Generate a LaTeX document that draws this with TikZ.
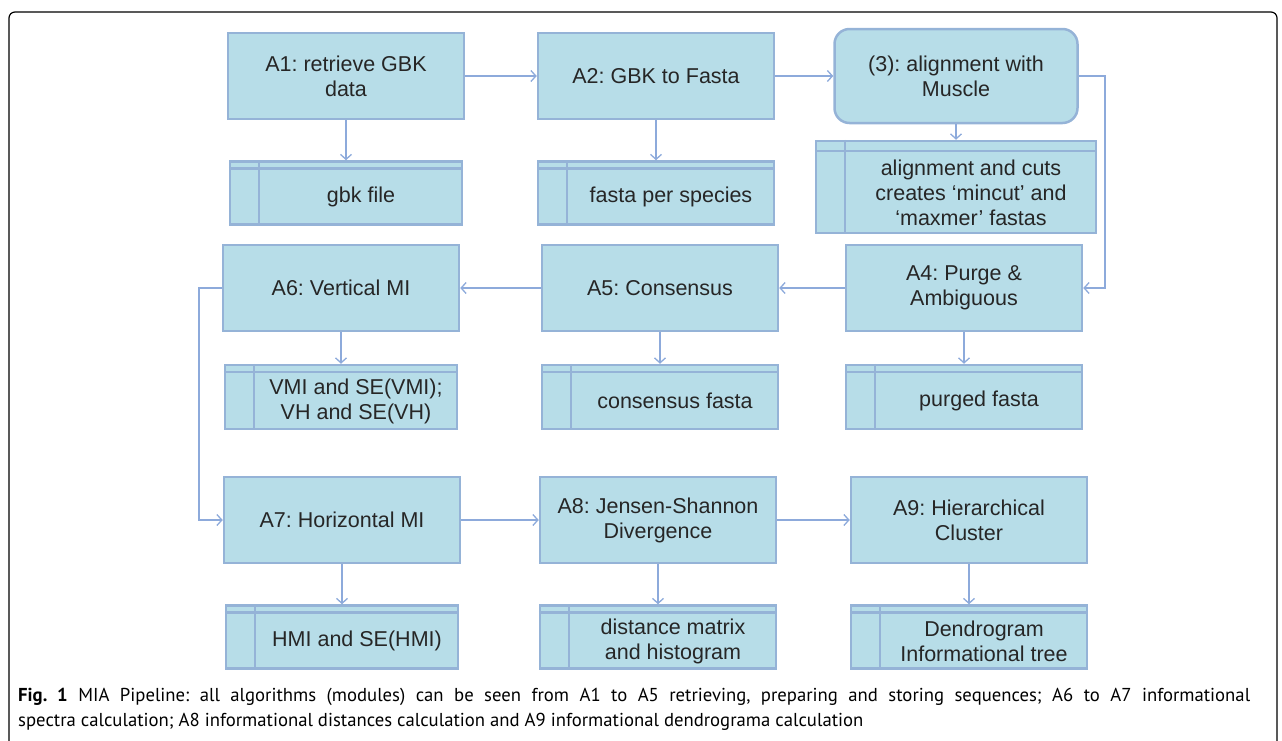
\documentclass[tikz,border=0pt]{standalone}
\usepackage{fontspec}
\setmainfont{Liberation Sans}
\newfontfamily\capfont{PT Sans}
\usetikzlibrary{arrows.meta}
\usetikzlibrary{positioning}
\frenchspacing

\definecolor{boxfill}{RGB}{183,221,232}
\definecolor{boxline}{RGB}{149,179,215}
\definecolor{flowline}{RGB}{141,170,219}
\definecolor{boxtext}{RGB}{38,38,38}

\tikzset{
  proc/.style={rectangle, draw=boxline, fill=boxfill, line width=2.5pt,
    minimum width=236pt, minimum height=86pt, align=center, text=boxtext,
    font=\fontsize{21.5}{25}\selectfont},
  store/.style={rectangle, draw=boxline, fill=boxfill, line width=2.5pt,
    minimum width=232pt, minimum height=63pt, inner sep=0pt},
  storelabel/.style={xshift=15pt, yshift=-4pt, align=center, text=boxtext,
    font=\fontsize{21.5}{25}\selectfont},
  flow/.style={draw=flowline, line width=1.3pt, ->,
    >={Straight Barb[length=5pt,width=11pt]}}
}

\begin{document}
\begin{tikzpicture}[x=1pt, y=-1pt]
	\useasboundingbox (0,0) rectangle (1282,740);
	% frame round the figure
	\draw[line width=1.2pt, rounded corners=6pt] (9,12) rectangle (1277,760);

	\begin{scope}[every node/.style={proc}]
		\node (a1) at (346,76) {A1: retrieve GBK\\data};
		\node (a2) at (656,76) {A2: GBK to Fasta};
		\node[rounded corners=15pt, minimum width=243pt, minimum height=94pt] (a3) at (956,76) {(3): alignment with\\Muscle};
		\node (a4) at (964,288) {A4: Purge \&\\Ambiguous};
		\node (a5) at (660,288) {A5: Consensus};
		\node (a6) at (341,288) {A6: Vertical MI};
		\node (a7) at (342,520) {A7: Horizontal MI};
		\node (a8) at (658,520) {A8: Jensen-Shannon\\Divergence};
		\node (a9) at (969,520) {A9: Hierarchical\\Cluster};
	\end{scope}

	% data stores
	\node[store, label={[storelabel]center:gbk file}] (gbk) at (346,193) {};
	\node[store, minimum width=236pt, label={[storelabel]center:fasta per species}] (fasta) at (656,193) {};
	\node[store, minimum width=280pt, minimum height=92pt,
	      label={[storelabel, yshift=-2pt]center:alignment and cuts\\creates ‘mincut’ and\\‘maxmer’ fastas}] (aln) at (956,187) {};
	\node[store, minimum height=64pt, label={[storelabel]center:VMI and SE(VMI);\\VH and SE(VH)}] (vmi) at (341,397) {};
	\node[store, minimum width=236pt, minimum height=64pt, label={[storelabel]center:consensus fasta}] (cons) at (660,397) {};
	\node[store, minimum width=236pt, minimum height=64pt, label={[storelabel]center:purged fasta}] (purged) at (964,397) {};
	\node[store, label={[storelabel]center:HMI and SE(HMI)}] (hmi) at (342,637) {};
	\node[store, minimum width=236pt, label={[storelabel]center:distance matrix\\and histogram}] (dist) at (658,637) {};
	\node[store, minimum width=236pt, label={[storelabel]center:Dendrogram\\Informational tree}] (dend) at (969,637) {};

	\foreach \s/\h in {gbk/8, fasta/8, aln/11, vmi/8, cons/8, purged/8, hmi/8, dist/8, dend/8}
		\draw[draw=boxline, line width=2.5pt]
			([yshift=-\h pt]\s.north west) -- ([yshift=-\h pt]\s.north east)
			([xshift=30pt]\s.north west) -- ([xshift=30pt]\s.south west);

	\begin{scope}[every edge/.style={flow}]
		\path (a1) edge (a2);
		\path (a2) edge (a3);
		\path (a1) edge (gbk);
		\path (a2) edge (fasta);
		\path (a3) edge (aln);
		\path (a4) edge (a5);
		\path (a5) edge (a6);
		\path (a4) edge (purged);
		\path (a5) edge (cons);
		\path (a6) edge (vmi);
		\path (a7) edge (a8);
		\path (a8) edge (a9);
		\path (a7) edge (hmi);
		\path (a8) edge (dist);
		\path (a9) edge (dend);
	\end{scope}

	\coordinate (rturn) at (1105,76);
	\coordinate (lturn) at (199,288);
	\draw[flow] (a3.east) -- (rturn) |- (a4.east);
	\draw[flow] (a6.west) -- (lturn) |- (a7.west);

	\node[anchor=north west, align=left, inner sep=0pt, text=black,
	      font=\capfont\fontsize{18.7}{25}\selectfont] (caption) at (18,688)
		{\makebox[1232pt][s]{\textbf{Fig. 1} MIA Pipeline: all algorithms (modules) can be seen from A1 to A5 retrieving, preparing and storing sequences; A6 to A7 informational}\\
		 spectra calculation; A8 informational distances calculation and A9 informational dendrograma calculation};
\end{tikzpicture}
\end{document}
